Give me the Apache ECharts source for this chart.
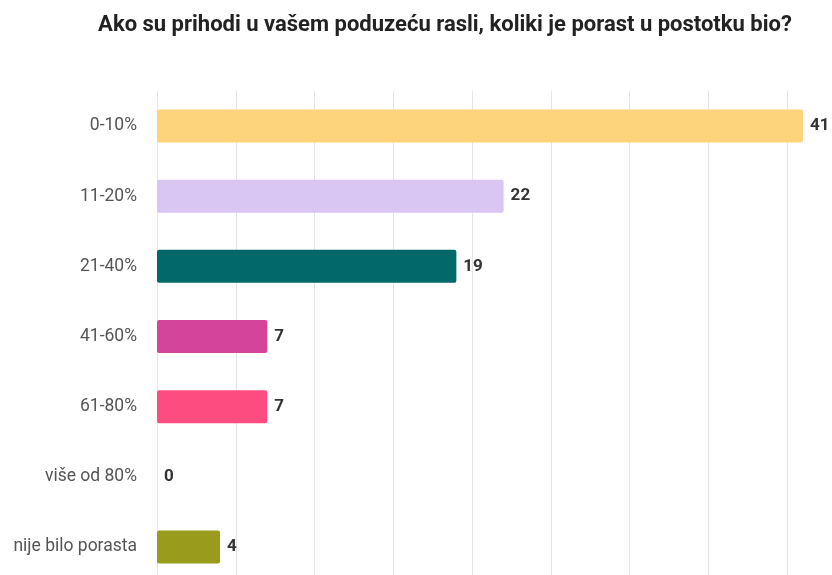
<!DOCTYPE html>
<html>
<head>
<meta charset="utf-8">
<script src="https://cdn.jsdelivr.net/npm/echarts@6/dist/echarts.min.js"></script>
<style>
  html, body { margin: 0; padding: 0; background: #fff; overflow: hidden; }
  #chart { width: 866px; height: 582px; }
</style>
</head>
<body>
<div id="chart"></div>
<script>
const categories = ["0-10%", "11-20%", "21-40%", "41-60%", "61-80%", "više od 80%", "nije bilo porasta"];
const values = [41, 22, 19, 7, 7, 0, 4];
const colors = ["#FDD47B", "#DAC6F2", "#03686A", "#D3449A", "#FD4C80", "#C0C0C0", "#989B1C"];

// the original picture is cut off at the right and bottom, so the chart is a bit bigger than the window
const chart = echarts.init(document.getElementById("chart"));

const option = {
  backgroundColor: "#fff",
  title: {
    text: "Ako su prihodi u vašem poduzeću rasli, koliki je porast u postotku bio?",
    left: 440,
    textAlign: "center",
    top: 9,
    textStyle: {
      fontFamily: "Roboto",
      fontWeight: "bold",
      fontSize: 22,
      color: "#222",
    },
  },
  grid: {
    left: 157,
    right: 0,
    top: 91,
    bottom: 0,
    containLabel: false,
  },
  xAxis: {
    type: "value",
    min: 0,
    max: 45,
    interval: 5,
    axisLabel: { show: false },
    axisLine: { show: false },
    axisTick: { show: false },
    splitLine: { lineStyle: { color: "#e4e4e8", width: 1 } },
  },
  yAxis: {
    type: "category",
    inverse: true,
    data: categories,
    axisLine: { show: false },
    axisTick: { show: false },
    axisLabel: {
      margin: 20,
      fontFamily: "Roboto",
      fontSize: 17.5,
      color: "#555",
    },
  },
  series: [
    {
      type: "bar",
      barWidth: 33,
      data: values.map((v, i) => ({ value: v, itemStyle: { color: colors[i] } })),
      itemStyle: { borderRadius: 2 },
      label: {
        show: true,
        position: "right",
        distance: 7,
        fontFamily: "Roboto",
        fontWeight: "bold",
        fontSize: 17,
        color: "#333",
      },
    },
  ],
};

chart.setOption(option);
</script>
</body>
</html>
